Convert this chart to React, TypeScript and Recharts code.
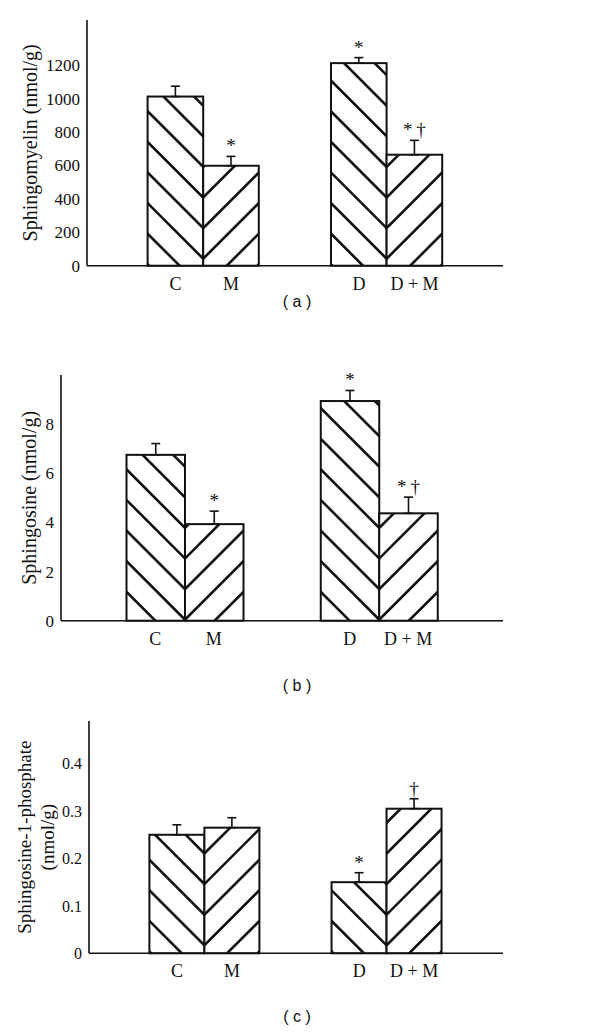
import React from "react";
import { BarChart, Bar, XAxis, YAxis, ErrorBar, LabelList } from "recharts";

const SERIF = "'Liberation Serif', 'Times New Roman', serif";
const SANS = "'Liberation Sans', Arial, sans-serif";

const GROUPS = ["C", "D"];
const LEFT_NAMES = ["C", "D"];
const RIGHT_NAMES = ["M", "D + M"];

// (a) sphingomyelin, nmol/g
const SM_LEFT = [1012, 1212];
const SM_LEFT_ERR = [62, 33];
const SM_RIGHT = [598, 664];
const SM_RIGHT_ERR = [56, 86];
const SM_LEFT_MARK = ["", "*"];
const SM_RIGHT_MARK = ["*", "*\u2009†"];
const SM_TICKS = [0, 200, 400, 600, 800, 1000, 1200];

// (b) sphingosine, nmol/g
const SO_LEFT = [6.75, 8.94];
const SO_LEFT_ERR = [0.46, 0.43];
const SO_RIGHT = [3.93, 4.37];
const SO_RIGHT_ERR = [0.53, 0.66];
const SO_LEFT_MARK = ["", "*"];
const SO_RIGHT_MARK = ["*", "*\u2009†"];
const SO_TICKS = [0, 2, 4, 6, 8];

// (c) sphingosine-1-phosphate, nmol/g
const SP_LEFT = [0.25, 0.15];
const SP_LEFT_ERR = [0.021, 0.02];
const SP_RIGHT = [0.265, 0.305];
const SP_RIGHT_ERR = [0.021, 0.021];
const SP_LEFT_MARK = ["", "*"];
const SP_RIGHT_MARK = ["", "†"];
const SP_TICKS = [0, 0.1, 0.2, 0.3, 0.4];

const HATCH_STEP = 30.6;

function buildRows(left, leftErr, right, rightErr, leftMark, rightMark) {
  return GROUPS.map((g, i) => ({
    group: g,
    left: left[i],
    leftErr: [0, leftErr[i]],
    leftMark: leftMark[i],
    right: right[i],
    rightErr: [0, rightErr[i]],
    rightMark: rightMark[i],
  }));
}

// hatched bar: "\" lines for the left bar, "/" for the right, meeting at the shared edge
function hatchShape(id, dir, phase) {
  return (props) => {
    const { x, y, width, height, index } = props;
    if (!height || height <= 0) return null;
    const clipId = `${id}-${dir}-${index}`;
    const base = y + height - phase;
    const lines = [];
    const kMin = -Math.ceil(width / HATCH_STEP) - 1;
    const kMax = Math.ceil(height / HATCH_STEP) + 1;
    for (let k = kMin; k <= kMax; k++) {
      const y0 = base - k * HATCH_STEP;
      if (dir === "left") {
        const ex = x + width;
        lines.push(<line key={k} x1={ex - width - 4} y1={y0 - width - 4} x2={ex + 4} y2={y0 + 4} />);
      } else {
        lines.push(<line key={k} x1={x - 4} y1={y0 + 4} x2={x + width + 4} y2={y0 - width - 4} />);
      }
    }
    return (
      <g>
        <defs>
          <clipPath id={clipId}>
            <rect x={x} y={y} width={width} height={height} />
          </clipPath>
        </defs>
        <rect x={x} y={y} width={width} height={height} fill="#fff" />
        <g clipPath={`url(#${clipId})`} stroke="#111" strokeWidth={2.6}>
          {lines}
        </g>
        <rect x={x} y={y} width={width} height={height} fill="none" stroke="#111" strokeWidth={2} />
      </g>
    );
  };
}

function markLabel(values, errs, marks) {
  return (p) => {
    const i = p.index;
    const m = marks[i];
    if (!m) return null;
    const top = p.y - (errs[i] * p.height) / values[i];
    return (
      <text x={p.x + p.width / 2} y={top - 4} textAnchor="middle" fontFamily={SERIF} fontSize={19} fill="#111">
        {m}
      </text>
    );
  };
}

function pairTick(half) {
  return (p) => {
    const i = p.index;
    return (
      <g>
        <text x={p.x - half} y={p.y + 24} textAnchor="middle" fontFamily={SERIF} fontSize={18} fill="#111">
          {LEFT_NAMES[i]}
        </text>
        <text x={p.x + half} y={p.y + 24} textAnchor="middle" fontFamily={SERIF} fontSize={18} fill="#111">
          {RIGHT_NAMES[i]}
        </text>
      </g>
    );
  };
}

function yLabel(lines, xs, size) {
  return (p) => {
    const vb = p.viewBox;
    const cy = vb.y + vb.height / 2;
    return (
      <g>
        {lines.map((t, i) => (
          <text
            key={i}
            x={xs[i]}
            y={cy}
            transform={`rotate(-90, ${xs[i]}, ${cy})`}
            textAnchor="middle"
            dominantBaseline="central"
            fontFamily={SERIF}
            fontSize={size}
            fill="#111"
          >
            {t}
          </text>
        ))}
      </g>
    );
  };
}

function Panel({ id, rows, left, leftErr, right, rightErr, leftMark, rightMark, domain, ticks, tickSize, margin, yWidth, pad, barSize, phase, label }) {
  return (
    <BarChart width={600} height={300} data={rows} margin={margin} barGap={0} barSize={barSize}>
      <XAxis
        dataKey="group"
        padding={pad}
        height={30}
        interval={0}
        tickLine={false}
        tickSize={0}
        tickMargin={0}
        axisLine={{ stroke: "#111", strokeWidth: 1.6 }}
        tick={pairTick(barSize / 2)}
      />
      <YAxis
        domain={domain}
        ticks={ticks}
        interval={0}
        width={yWidth}
        tickLine={false}
        tickSize={0}
        tickMargin={7}
        axisLine={{ stroke: "#111", strokeWidth: 1.6 }}
        tick={{ fill: "#111", fontSize: tickSize, fontFamily: SERIF }}
        label={{ content: label }}
      />
      <Bar dataKey="left" isAnimationActive={false} shape={hatchShape(id, "left", phase)}>
        <ErrorBar dataKey="leftErr" width={4.5} stroke="#111" strokeWidth={1.6} direction="y" />
        <LabelList dataKey="leftMark" content={markLabel(left, leftErr, leftMark)} />
      </Bar>
      <Bar dataKey="right" isAnimationActive={false} shape={hatchShape(id, "right", phase)}>
        <ErrorBar dataKey="rightErr" width={4.5} stroke="#111" strokeWidth={1.6} direction="y" />
        <LabelList dataKey="rightMark" content={markLabel(right, rightErr, rightMark)} />
      </Bar>
    </BarChart>
  );
}

const capStyle: React.CSSProperties = {
  position: "absolute",
  left: 247,
  width: 100,
  textAlign: "center",
  fontFamily: SANS,
  fontSize: 16,
  color: "#111",
  whiteSpace: "pre",
};

export default function App() {
  return (
    <div style={{ position: "absolute", left: 0, top: 0, width: 600, height: 1033, background: "#fff" }}>
      <div style={{ position: "absolute", left: 0, top: 0 }}>
        <Panel
          id="sm"
          rows={buildRows(SM_LEFT, SM_LEFT_ERR, SM_RIGHT, SM_RIGHT_ERR, SM_LEFT_MARK, SM_RIGHT_MARK)}
          left={SM_LEFT}
          leftErr={SM_LEFT_ERR}
          right={SM_RIGHT}
          rightErr={SM_RIGHT_ERR}
          leftMark={SM_LEFT_MARK}
          rightMark={SM_RIGHT_MARK}
          domain={[0, 1470]}
          ticks={SM_TICKS}
          tickSize={17}
          margin={{ top: 20, right: 97, bottom: 4.3, left: 27 }}
          yWidth={60}
          pad={{ left: 24.6, right: 24.6 }}
          barSize={55.6}
          phase={7}
          label={yLabel(["Sphingomyelin (nmol/g)"], [30], 20)}
        />
      </div>
      <div style={{ ...capStyle, top: 293 }}>( a )</div>

      <div style={{ position: "absolute", left: 0, top: 355 }}>
        <Panel
          id="so"
          rows={buildRows(SO_LEFT, SO_LEFT_ERR, SO_RIGHT, SO_RIGHT_ERR, SO_LEFT_MARK, SO_RIGHT_MARK)}
          left={SO_LEFT}
          leftErr={SO_LEFT_ERR}
          right={SO_RIGHT}
          rightErr={SO_RIGHT_ERR}
          leftMark={SO_LEFT_MARK}
          rightMark={SO_RIGHT_MARK}
          domain={[0, 10]}
          ticks={SO_TICKS}
          tickSize={17}
          margin={{ top: 20, right: 97, bottom: 4.3, left: 6 }}
          yWidth={55}
          pad={{ left: 26.5, right: 27 }}
          barSize={58.5}
          phase={1}
          label={yLabel(["Sphingosine (nmol/g)"], [29], 20)}
        />
      </div>
      <div style={{ ...capStyle, top: 677 }}>( b )</div>

      <div style={{ position: "absolute", left: 0, top: 700 }}>
        <Panel
          id="sp"
          rows={buildRows(SP_LEFT, SP_LEFT_ERR, SP_RIGHT, SP_RIGHT_ERR, SP_LEFT_MARK, SP_RIGHT_MARK)}
          left={SP_LEFT}
          leftErr={SP_LEFT_ERR}
          right={SP_RIGHT}
          rightErr={SP_RIGHT_ERR}
          leftMark={SP_LEFT_MARK}
          rightMark={SP_RIGHT_MARK}
          domain={[0, 0.49]}
          ticks={SP_TICKS}
          tickSize={16}
          margin={{ top: 21, right: 97, bottom: 16.7, left: 29 }}
          yWidth={60}
          pad={{ left: 24.4, right: 25.3 }}
          barSize={55}
          phase={8}
          label={yLabel(["Sphingosine-1-phosphate", "(nmol/g)"], [25, 48], 19)}
        />
      </div>
      <div style={{ ...capStyle, top: 1008 }}>( c )</div>
    </div>
  );
}
